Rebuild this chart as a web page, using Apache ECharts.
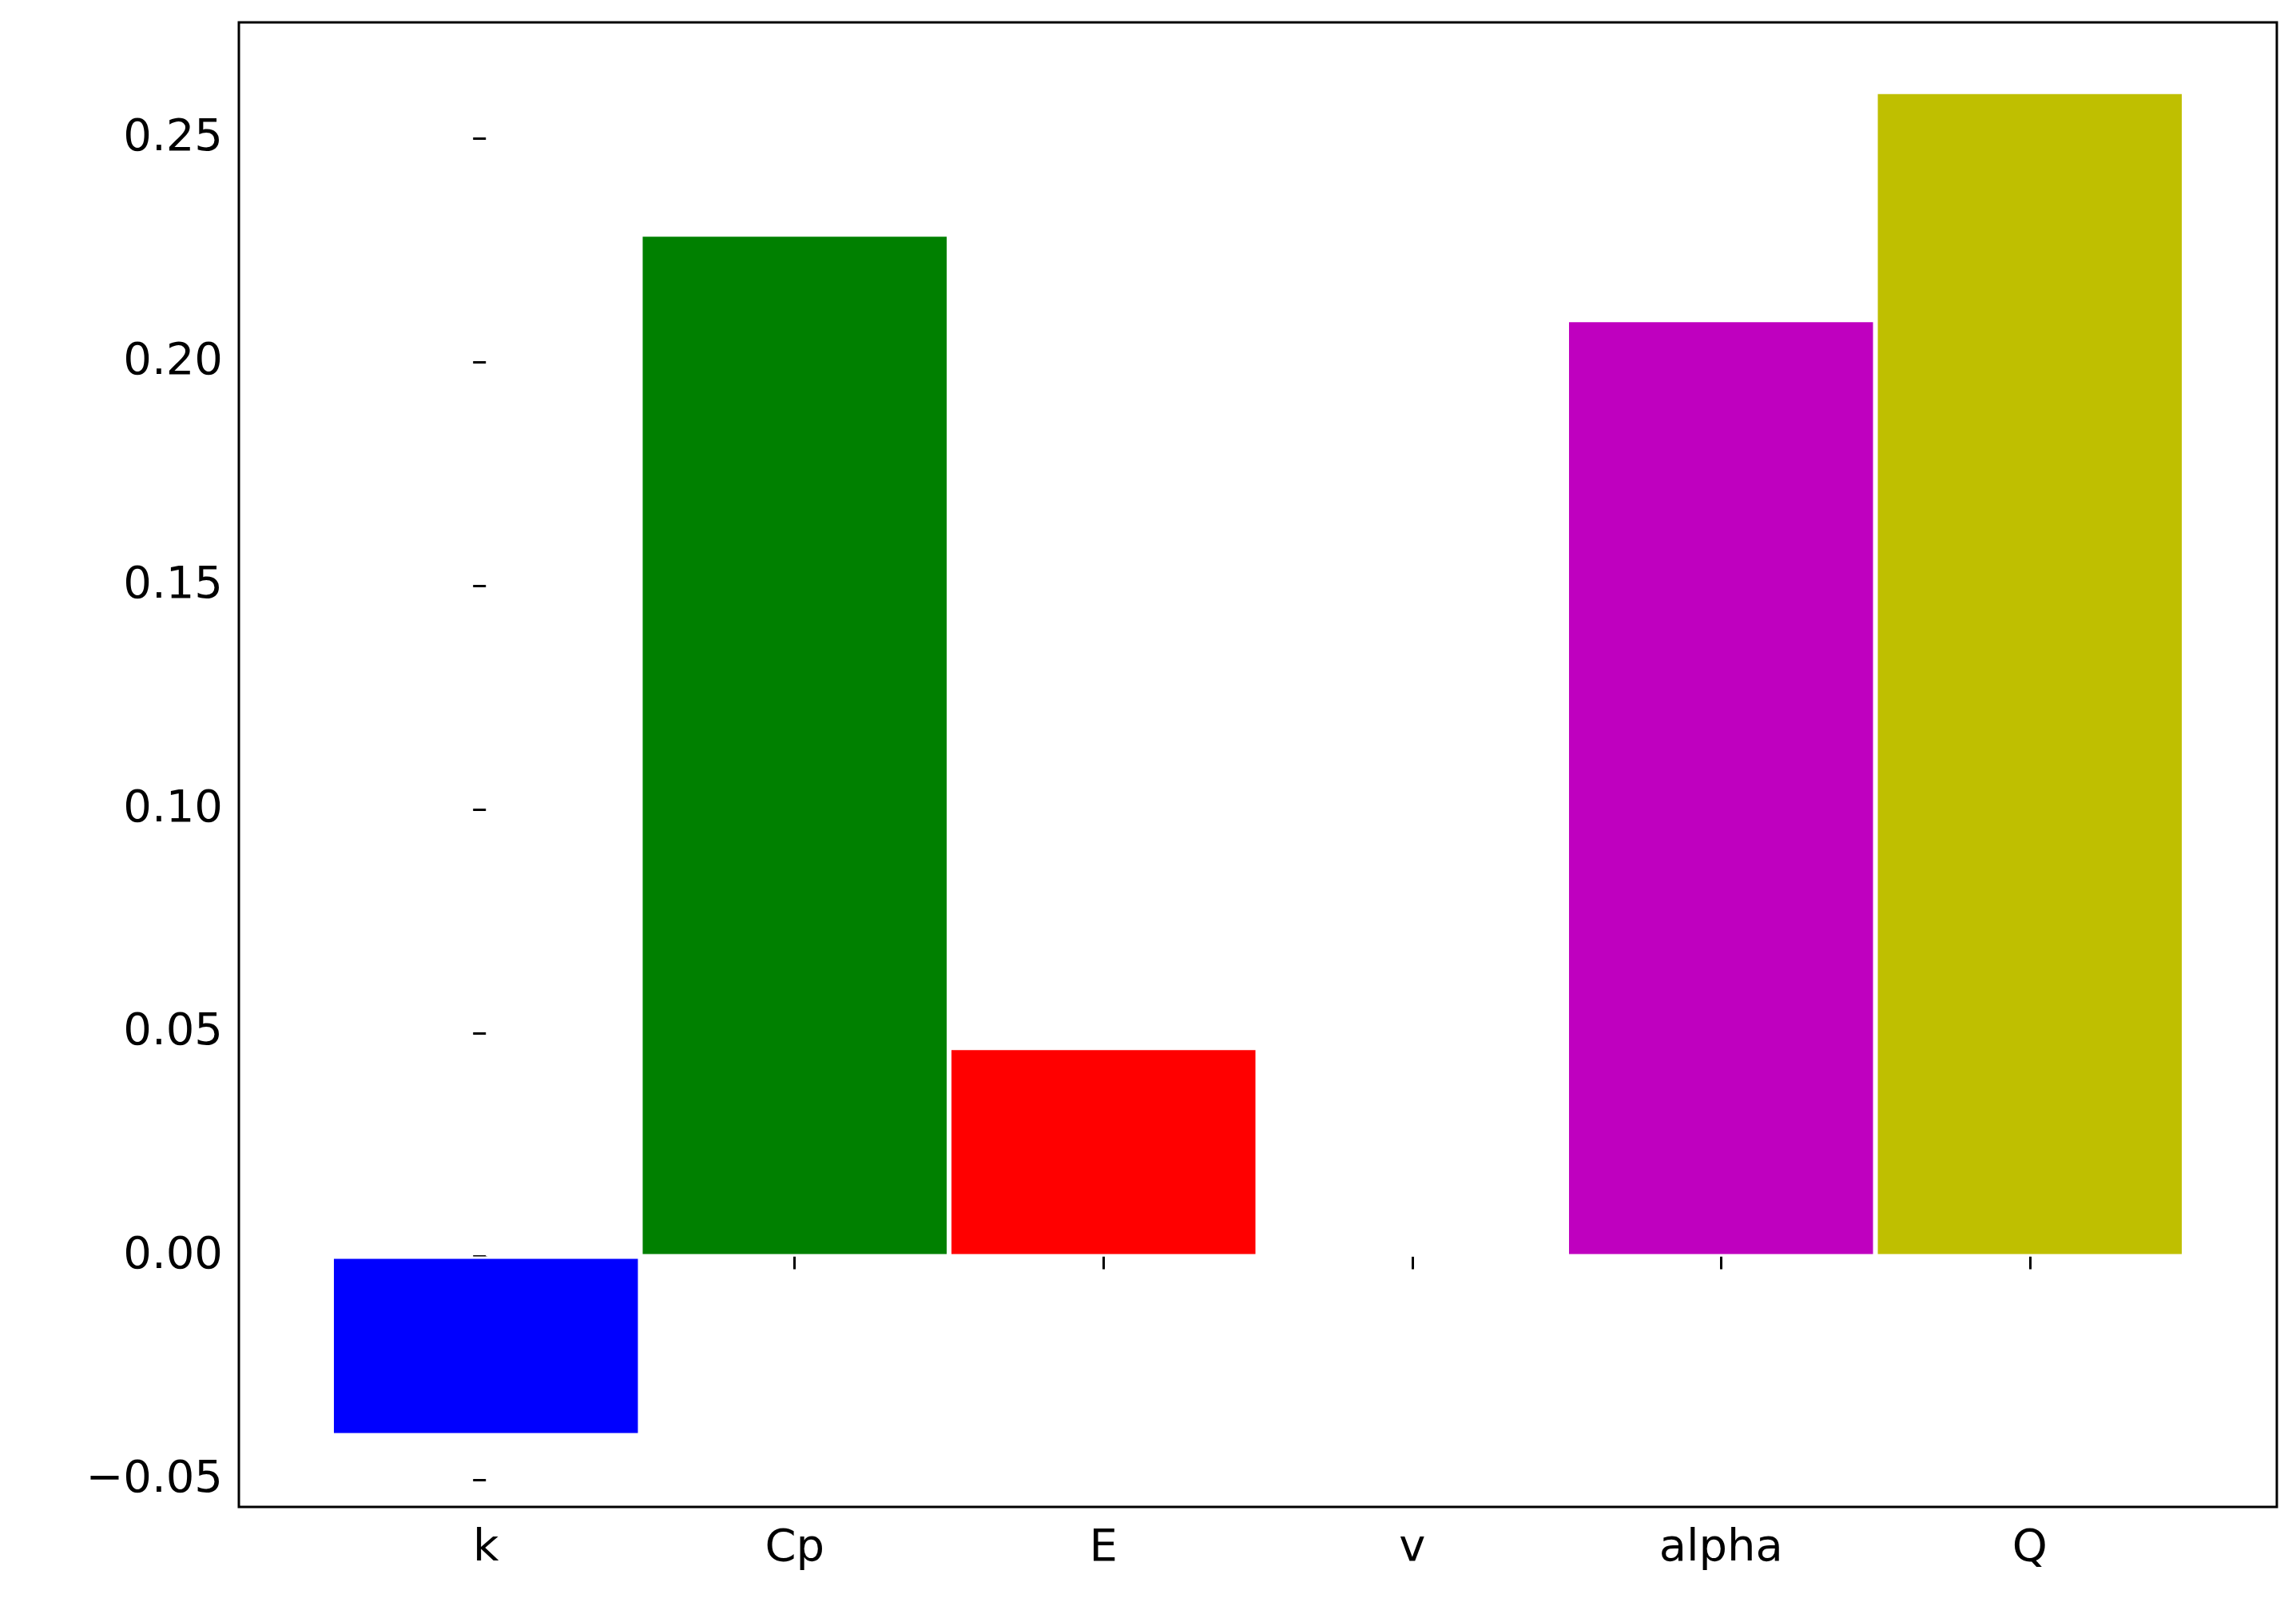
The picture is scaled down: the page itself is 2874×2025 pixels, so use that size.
<!DOCTYPE html>
<html><head><meta charset="utf-8">
<script src="https://cdn.jsdelivr.net/npm/echarts@6/dist/echarts.min.js"></script>
<style>html,body{margin:0;padding:0;background:#fff}#c{width:2874px;height:2025px}</style>
</head><body><div id="c"></div>
<script>
const categories = ['k','Cp','E','v','alpha','Q'];
const values = [-0.040, 0.2286, 0.0467, 0.0005, 0.2095, 0.2605];
const colors = ['#0000ff','#008000','#ff0000','#00bfbf','#bf00bf','#bfbf00'];
const yTicks = [-0.05,0,0.05,0.10,0.15,0.20,0.25];
const xTicks = [0,1,2,3,4,5];

const chart = echarts.init(document.getElementById('c'));
const gridLeft=299, gridRight=24, plotW=2874-gridLeft-gridRight;
const xMin=-0.8, xMax=5.8;
const barW = plotW/(xMax-xMin);
const font = {fontFamily:'DejaVu Sans', fontSize:56, color:'#000'};
chart.setOption({
  animation:false,
  grid:{left:gridLeft,right:gridRight,top:28,bottom:139,show:true,borderColor:'#000',borderWidth:3,backgroundColor:'#fff'},
  xAxis:{type:'value',min:xMin,max:xMax,splitLine:{show:false},
    axisLine:{show:false},
    axisTick:{show:true,length:16,lineStyle:{color:'#000',width:3},customValues:xTicks},
    axisLabel:Object.assign({margin:24,customValues:xTicks,formatter:v=>categories[Math.round(v)]},font)},
  yAxis:{type:'value',min:-0.056,max:0.276,splitLine:{show:false},
    axisLine:{show:false},
    axisTick:{show:true,length:16,lineStyle:{color:'#000',width:3},customValues:yTicks},
    axisLabel:Object.assign({margin:20,customValues:yTicks,formatter:v=>(v<0?'\u2212':'')+Math.abs(v).toFixed(2)},font)},
  series:[{type:'bar',barWidth:barW,
    data:values.map((v,i)=>({value:[xTicks[i],v],itemStyle:{color:colors[i]}})),
    itemStyle:{borderColor:'#fff',borderWidth:3}}]
});
</script></body></html>
